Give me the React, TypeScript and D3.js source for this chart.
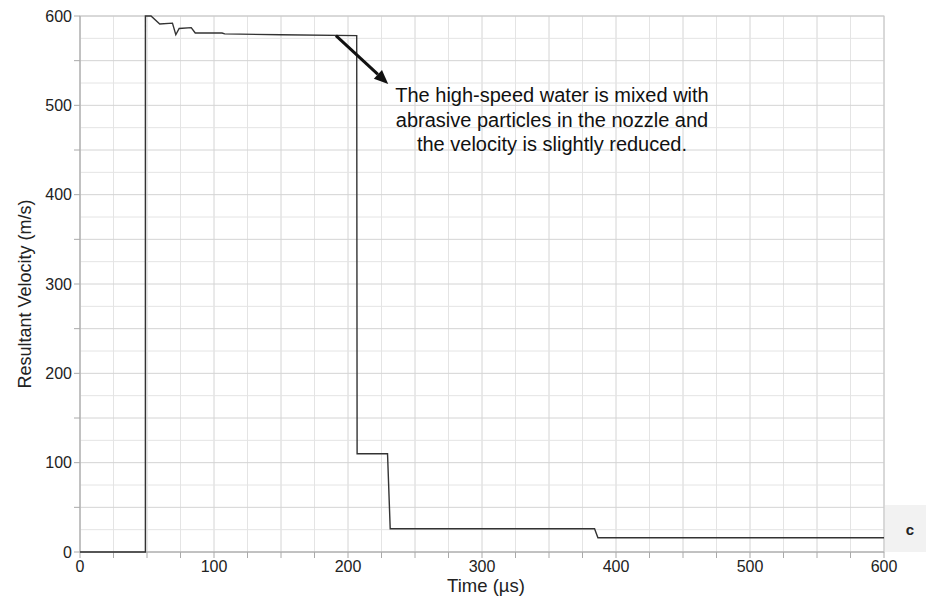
import React from 'react';
import * as d3 from 'd3';

// Time (µs) and resultant velocity (m/s)
const timeUs = [0, 48.8, 48.8, 53, 59.5, 69, 71.5, 74, 83, 86, 106, 108, 150, 206.5, 206.8, 229.5, 231.5, 384, 386.5, 600];
const velocity = [0, 0, 600, 600, 591, 592, 579, 586, 587, 581, 581, 580, 579, 578, 110, 110, 26, 26, 16, 16];

const xTickLabels = [0, 100, 200, 300, 400, 500, 600];
const yTickLabels = [0, 100, 200, 300, 400, 500, 600];

const noteLines = [
  'The high-speed water is mixed with',
  'abrasive particles in the nozzle and',
  'the velocity is slightly reduced.',
];
// arrow start / tip in data units
const arrowFrom = [191, 578];
const arrowTo = [230, 524];

const W = 926;
const H = 596;
const margin = { left: 80, right: 42, top: 16, bottom: 44 };
const font = 'Arial, "Liberation Sans", Helvetica, sans-serif';

export default function App() {
  const x = d3.scaleLinear().domain([0, 600]).range([margin.left, W - margin.right]);
  const y = d3.scaleLinear().domain([0, 600]).range([H - margin.bottom, margin.top]);

  const pts: [number, number][] = timeUs.map((t, i) => [t, velocity[i]]);
  const line = d3.line<[number, number]>().x(d => x(d[0])).y(d => y(d[1]));

  const grid = d3.range(0, 601, 25);
  const xMinor = d3.range(0, 601, 25);
  const yMinor = d3.range(0, 601, 50);

  const ax1 = x(arrowFrom[0]), ay1 = y(arrowFrom[1]);
  const ax2 = x(arrowTo[0]), ay2 = y(arrowTo[1]);
  const ang = Math.atan2(ay2 - ay1, ax2 - ax1);
  const headLen = 14, headW = 6;
  const bx = ax2 - headLen * Math.cos(ang), by = ay2 - headLen * Math.sin(ang);
  const head = [
    [ax2, ay2],
    [bx + headW * Math.sin(ang), by - headW * Math.cos(ang)],
    [bx - headW * Math.sin(ang), by + headW * Math.cos(ang)],
  ].map(p => p.join(',')).join(' ');

  const x0 = x(0), x1 = x(600), yb = y(0), yt = y(600);

  return (
    <svg width={W} height={H} style={{ position: 'absolute', left: 0, top: 0, background: '#fff' }} fontFamily={font}>
      {/* grid */}
      {grid.map(v => (
        <line key={'gx' + v} x1={x(v)} x2={x(v)} y1={yt} y2={yb}
          stroke={v % 50 === 0 ? '#d4d4d4' : '#e4e4e4'} strokeWidth={1} />
      ))}
      {grid.map(v => (
        <line key={'gy' + v} x1={x0} x2={x1} y1={y(v)} y2={y(v)}
          stroke={v % 50 === 0 ? '#d4d4d4' : '#e4e4e4'} strokeWidth={1} />
      ))}

      {/* frame */}
      <rect x={x0} y={yt} width={x1 - x0} height={yb - yt} fill="none" stroke="#c8c8c8" />
      <line x1={x0} x2={x0} y1={yt} y2={yb} stroke="#aaa" />
      <line x1={x0} x2={x1} y1={yb} y2={yb} stroke="#aaa" />

      {/* ticks */}
      {xMinor.map(v => (
        <line key={'tx' + v} x1={x(v)} x2={x(v)} y1={yb} y2={yb + 6} stroke="#aaa" />
      ))}
      {yMinor.map(v => (
        <line key={'ty' + v} x1={x0 - 6} x2={x0} y1={y(v)} y2={y(v)} stroke="#aaa" />
      ))}
      {xTickLabels.map(v => (
        <text key={'lx' + v} x={x(v)} y={yb + 20} textAnchor="middle" fontSize={16} fill="#222">{v}</text>
      ))}
      {yTickLabels.map(v => (
        <text key={'ly' + v} x={x0 - 8} y={y(v)} dy="0.35em" textAnchor="end" fontSize={16} fill="#222">{v}</text>
      ))}

      {/* axis titles */}
      <text x={(x0 + x1) / 2 + 4} y={H - 4} textAnchor="middle" fontSize={18.5} fill="#222">Time (µs)</text>
      <text transform={`translate(31, ${(yt + yb) / 2 + 10}) rotate(-90)`} textAnchor="middle" fontSize={18} fill="#222">
        Resultant Velocity (m/s)
      </text>

      {/* data */}
      <path d={line(pts) ?? ''} fill="none" stroke="#333" strokeWidth={1.4} />

      {/* annotation */}
      <line x1={ax1} y1={ay1} x2={bx} y2={by} stroke="#111" strokeWidth={3} />
      <polygon points={head} fill="#111" />
      {noteLines.map((s, i) => (
        <text key={s} x={552} y={102 + i * 24.5} textAnchor="middle" fontSize={20} fill="#111">{s}</text>
      ))}

      {/* panel tag */}
      <rect x={x1 + 1} y={505} width={W - x1 - 1} height={yb - 505} fill="#f2f2f2" />
      <text x={910} y={535} textAnchor="middle" fontSize={15} fontWeight="bold" fill="#222">c</text>
    </svg>
  );
}
